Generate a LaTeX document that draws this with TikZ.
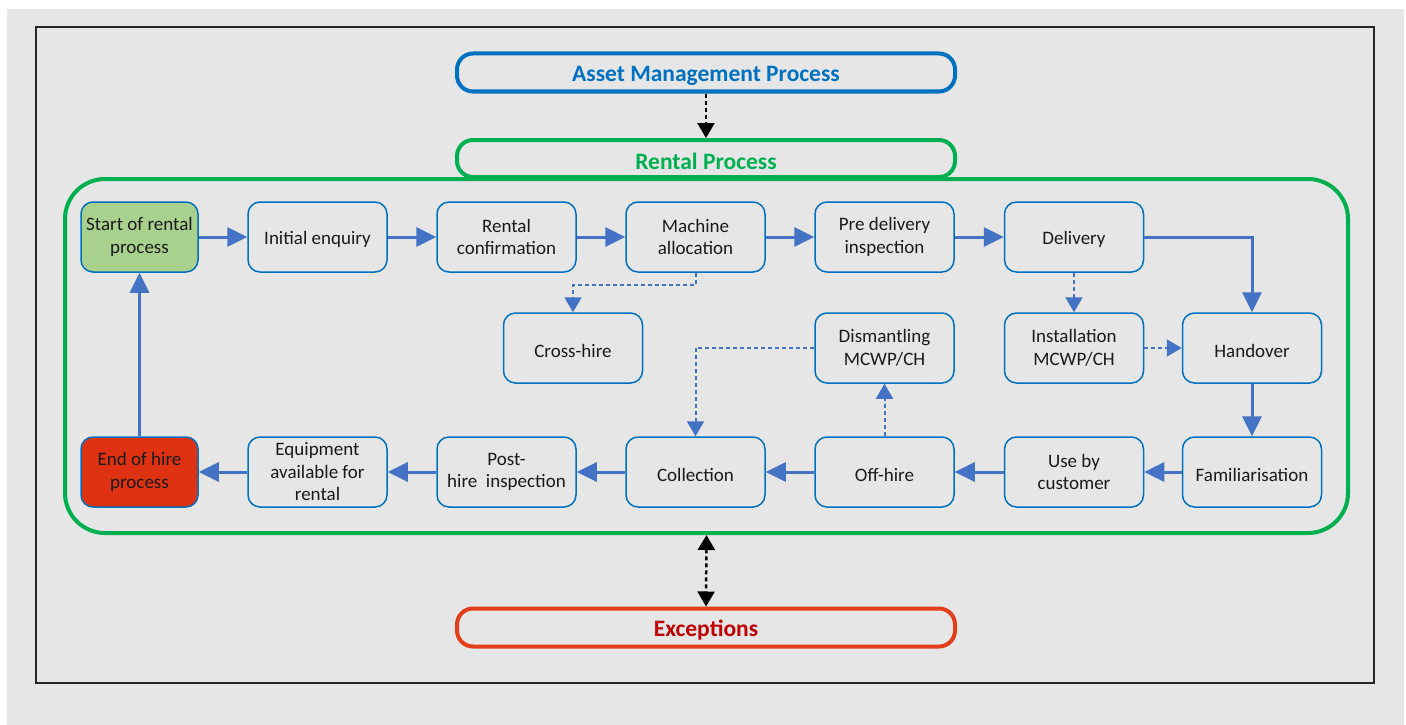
\documentclass[tikz,border=0pt]{standalone}
\usepackage{fontspec}
\setmainfont{Carlito}
\usetikzlibrary{arrows.meta}
\definecolor{bggray}{HTML}{E6E6E6}
\definecolor{boxblue}{HTML}{0070C0}
\definecolor{flowblue}{HTML}{4472C4}
\definecolor{rentgreen}{HTML}{00B050}
\definecolor{startgreen}{HTML}{A9D18E}
\definecolor{endred}{HTML}{DE3212}
\definecolor{excborder}{HTML}{E23E1A}
\definecolor{exctext}{HTML}{C00000}
\definecolor{txt}{HTML}{1A1A1A}
\tikzset{
  stepbox/.style={draw=boxblue, line width=1.5pt, rounded corners=12pt,
    minimum width=139pt, minimum height=70pt, align=center, inner sep=2pt,
    font=\fontsize{19}{22.5}\selectfont, text=txt,
    execute at begin node={\rule{0pt}{19pt}}},
  titlebox/.style={line width=4pt, rounded corners=16pt, fill=bggray,
    minimum width=498pt, minimum height=38pt, inner sep=0pt,
    font=\fontsize{23.5}{27}\selectfont\bfseries,
    execute at begin node={\rule{0pt}{22pt}}},
  flow/.style={draw=flowblue, line width=3pt,
    -{Triangle[length=20pt,width=19pt]}},
  option/.style={draw=flowblue, line width=2pt, dash pattern=on 4pt off 3pt,
    -{Triangle[length=15pt,width=17pt]}},
  link/.style={draw=black, line width=2.5pt, dash pattern=on 4pt off 3pt,
    -{Triangle[length=15pt,width=17pt]}},
  dlink/.style={draw=black, line width=2.5pt, dash pattern=on 4pt off 3pt,
    {Triangle[length=15pt,width=17pt]}-{Triangle[length=15pt,width=17pt]}}
}
\begin{document}
\begin{tikzpicture}[x=1pt,y=-1pt]
  \useasboundingbox (0,0) rectangle (1406,725);
  % background and outer frame
  \fill[white] (0,0) rectangle (1406,725);
  \fill[bggray] (7,9) rectangle (1404,725);
  \draw[line width=2pt, draw=black!85] (36,27) rectangle (1374,683);

  % rental process area
  \node[draw=rentgreen, line width=4pt, rounded corners=40pt,
        minimum width=1283pt, minimum height=354pt, inner sep=0pt,
        execute at begin node={}]
        (frame) at (706.5,356) {};
  \node[titlebox, draw=boxblue, text=boxblue] (asset) at (706,72.5) {Asset Management Process};
  \node[titlebox, draw=rentgreen, text=rentgreen, minimum height=37pt] (rental) at (706,158.5) {Rental Process};
  \node[titlebox, draw=excborder, text=exctext] (exc) at (706,627.5) {Exceptions};

  % top row
  \node[stepbox, fill=startgreen, minimum width=117pt] (start) at (139.5,237) {Start of rental\\process};
  \node[stepbox] (enq)   at (317.5,237) {Initial enquiry};
  \node[stepbox] (conf)  at (506.5,237) {Rental\\confirmation};
  \node[stepbox] (mach)  at (695.5,237) {Machine\\allocation};
  \node[stepbox] (pdi)   at (884.5,237) {Pre delivery\\inspection};
  \node[stepbox] (deliv) at (1074,237)  {Delivery};

  % middle row
  \node[stepbox] (cross) at (573,348)   {Cross-hire};
  \node[stepbox] (dism)  at (884.5,348) {Dismantling\\MCWP/CH};
  \node[stepbox] (inst)  at (1074,348)  {Installation\\MCWP/CH};
  \node[stepbox] (hand)  at (1252,348)  {Handover};

  % bottom row
  \node[stepbox, fill=endred, minimum width=117pt] (endh) at (139.5,472) {End of hire\\process};
  \node[stepbox] (equip) at (317.5,472) {Equipment\\available for\\rental};
  \node[stepbox] (post)  at (506.5,472) {Post-\\hire\ \ inspection};
  \node[stepbox] (coll)  at (695.5,472) {Collection};
  \node[stepbox] (off)   at (884.5,472) {Off-hire};
  \node[stepbox] (use)   at (1074,472)  {Use by\\customer};
  \node[stepbox] (fam)   at (1252,472)  {Familiarisation};

  % main flow
  \draw[flow] (start) -- (enq);
  \draw[flow] (enq) -- (conf);
  \draw[flow] (conf) -- (mach);
  \draw[flow] (mach) -- (pdi);
  \draw[flow] (pdi) -- (deliv);
  \draw[flow] (deliv.east) -| (hand.north);
  \draw[flow] (hand) -- (fam);
  \draw[flow] (fam) -- (use);
  \draw[flow] (use) -- (off);
  \draw[flow] (off) -- (coll);
  \draw[flow] (coll) -- (post);
  \draw[flow] (post) -- (equip);
  \draw[flow] (equip) -- (endh);
  \draw[flow] (endh) -- (start);

  % optional steps
  \draw[option] (mach.south) -- ++(0,12) -| (cross.north);
  \draw[option] (deliv) -- (inst);
  \draw[option] (inst) -- (hand);
  \draw[option] (off) -- (dism);
  \draw[option] (dism.west) -| (coll.north);

  % links between processes
  \draw[link] (asset.south) -- (rental.north);
  \draw[dlink] (frame.south) -- (exc.north);
\end{tikzpicture}
\end{document}
